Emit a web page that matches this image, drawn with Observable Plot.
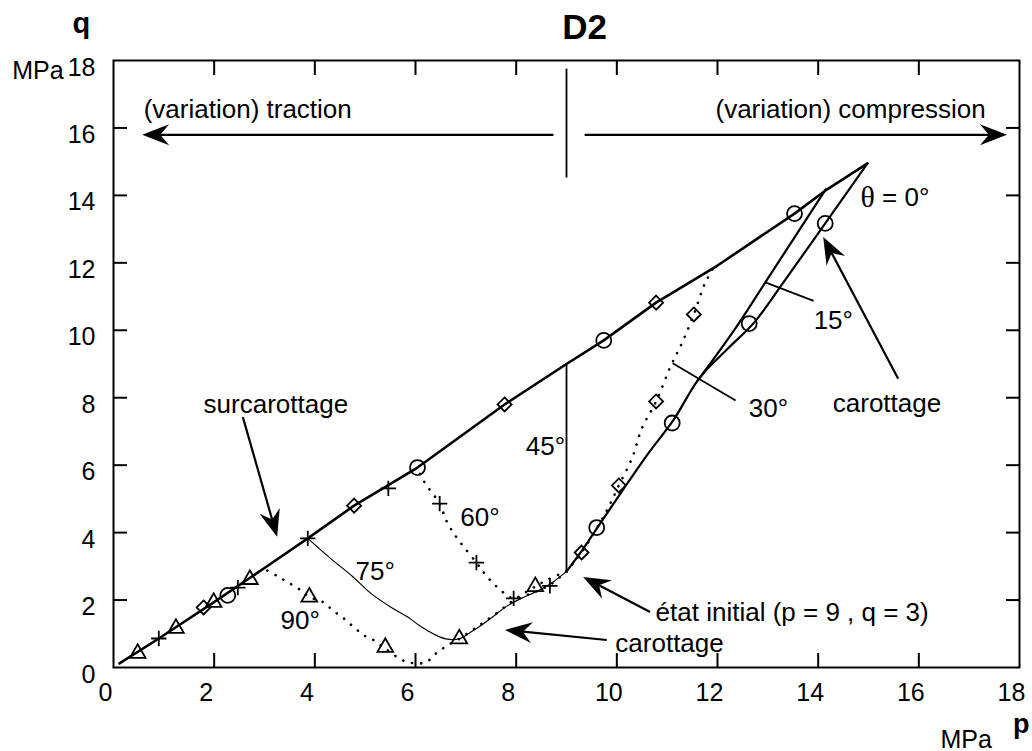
<!DOCTYPE html>
<html><head><meta charset="utf-8">
<script src="https://cdn.jsdelivr.net/npm/d3@7"></script>
<script src="https://cdn.jsdelivr.net/npm/@observablehq/plot@0.6"></script>
<style>
html,body{margin:0;padding:0;background:#fff;}
#chart{width:1032px;height:751px;}
</style></head><body><div id="chart"></div>
<script>
// ---- axis ticks ----
const pTicks = [0,2,4,6,8,10,12,14,16,18];
const qTicks = [0,2,4,6,8,10,12,14,16,18];
const innerTicks = [2,4,6,8,10,12,14,16];

// ---- stress paths [p, q] (MPa) ----
const surcarottage = [[0.12,0.12],[0.9,0.86],[1.99,1.93],[3.0,2.95],[3.86,3.83],[4.78,4.8],[6.04,5.93],[7.77,7.8],[9.0,9.0],[9.74,9.7],[10.78,10.82],[12.0,11.92],[13.53,13.46],[14.18,14.18],[14.98,14.95]];
const theta0 = [[9.0,2.85],[9.3,3.45],[9.6,4.12],[10.1,5.22],[10.65,6.4],[11.13,7.35],[11.6,8.5],[12.2,9.45],[12.74,10.25],[13.31,11.42],[14.14,13.17],[14.98,14.95]];
const theta15 = [[11.6,8.5],[12.42,10.2],[12.95,11.42],[14.15,14.18]];
const theta30 = [[9.0,2.85],[9.3,3.42],[9.6,4.12],[9.85,4.8],[10.04,5.4],[10.3,6.2],[10.5,7.1],[10.78,7.89],[11.06,8.9],[11.3,9.64],[11.53,10.47],[11.75,11.39],[11.95,11.92]];
const theta45 = [[9.0,2.85],[9.0,9.0]];
const theta60 = [[9.0,2.85],[8.67,2.45],[8.3,2.2],[7.95,2.05],[7.75,2.22],[7.55,2.49],[7.37,2.79],[7.21,3.11],[6.91,3.67],[6.75,4.0],[6.61,4.36],[6.48,4.86],[6.27,5.3],[6.12,5.64],[6.04,5.93]];
const theta75 = [[9.0,2.85],[8.7,2.5],[8.4,2.25],[8.1,2.05],[7.85,1.85],[7.6,1.58],[7.35,1.3],[7.1,1.05],[6.87,0.85],[6.6,0.85],[6.35,1.0],[6.1,1.22],[5.86,1.48],[5.52,1.78],[5.12,2.19],[4.75,2.7],[4.3,3.25],[3.86,3.83]];
const theta90 = [[9.0,2.85],[8.62,2.6],[8.38,2.4],[8.0,2.05],[7.6,1.6],[7.2,1.18],[6.87,0.85],[6.63,0.65],[6.4,0.41],[6.2,0.15],[5.8,0.18],[5.4,0.56],[5.18,0.8],[4.98,0.95],[4.78,1.19],[4.58,1.45],[4.36,1.69],[4.16,1.94],[3.89,2.09],[3.73,2.28],[3.29,2.68],[3.0,2.92]];

// ---- markers [p, q] ----
const circles = [[9.6,4.15],[11.1,7.25],[12.63,10.2],[14.14,13.17],[13.53,13.46],[9.74,9.7],[6.04,5.93],[2.27,2.14]];
const diamonds = [[9.3,3.41],[10.04,5.4],[10.78,7.89],[11.53,10.47],[10.78,10.82],[7.77,7.8],[4.78,4.8],[1.79,1.78]];
const crosses = [[8.67,2.42],[7.95,2.05],[7.21,3.11],[6.48,4.86],[5.46,5.31],[3.86,3.83],[2.47,2.37],[0.9,0.86]];
const triangles = [[8.38,2.4],[6.87,0.85],[5.4,0.6],[3.89,2.09],[2.71,2.61],[1.99,1.93],[1.24,1.16],[0.48,0.42]];

// ---- annotation texts ----
const labelTexts = ["(variation) traction","(variation) compression","surcarottage","carottage","15°","30°","45°","60°","75°","90°","état initial (p = 9 , q = 3)","carottage"];
const labelP = [0.6,11.96,1.79,14.29,13.91,12.62,8.19,6.89,4.81,3.32,10.77,9.97];
const labelQ = [16.55,16.55,7.8,7.83,10.29,7.68,6.55,4.45,2.85,1.39,1.64,0.72];
const labels = labelTexts.map((t,i)=>({t, p:labelP[i], q:labelQ[i]}));

// leader / divider lines
const leaders = [
  {p1:12.95,q1:11.42,p2:13.91,q2:10.87},
  {p1:11.11,q1:9.02,p2:12.36,q2:7.92},
  {p1:9.0,q1:14.53,p2:9.0,q2:17.76}
];
// arrows (tail -> head)
const arrows = [
  {p1:8.75,q1:15.78,p2:0.58,q2:15.78},
  {p1:9.37,q1:15.78,p2:17.76,q2:15.78},
  {p1:2.58,q1:7.41,p2:3.26,q2:3.86},
  {p1:15.6,q1:8.55,p2:14.11,q2:12.75},
  {p1:10.67,q1:1.63,p2:9.34,q2:2.67},
  {p1:9.81,q1:0.8,p2:7.79,q2:1.1}
];

const P = d => d[0], Q = d => d[1];
const dotted = {x:P, y:Q, stroke:"black", strokeWidth:2.6, strokeLinecap:"round", strokeDasharray:"0.1 9", curve:"catmull-rom"};
const mk = {x:P, y:Q, stroke:"black", strokeWidth:1.8, fill:"none"};
const font = "'Liberation Sans', Helvetica, Arial, sans-serif";

const chart = Plot.plot({
  width: 1032, height: 751,
  marginLeft: 113, marginRight: 13, marginTop: 60, marginBottom: 84,
  x: {domain:[0,18], axis:null},
  y: {domain:[0,18], axis:null},
  style: {fontFamily: font, fontSize: "25px", background:"white", color:"black", overflow:"visible"},
  marks: [
    Plot.frame({stroke:"black", strokeWidth:2}),
    Plot.axisX({anchor:"bottom", ticks: innerTicks, tickSize:14, dy:-14, strokeWidth:2, tickFormat:()=>"", label:null}),
    Plot.axisX({anchor:"top", ticks: innerTicks, tickSize:14, dy:14, strokeWidth:2, tickFormat:()=>"", label:null}),
    Plot.axisY({anchor:"left", ticks: innerTicks, tickSize:14, dx:14, strokeWidth:2, tickFormat:()=>"", label:null}),
    Plot.axisY({anchor:"right", ticks: innerTicks, tickSize:14, dx:-14, strokeWidth:2, tickFormat:()=>"", label:null}),
    Plot.axisX({anchor:"bottom", ticks: pTicks, tickSize:0, tickPadding:16, dx:-8, fontSize:25, label:null}),
    Plot.axisY({anchor:"left", ticks: qTicks, tickSize:0, tickPadding:18, dy:7, fontSize:25, label:null}),

    Plot.line(surcarottage, {x:P, y:Q, stroke:"black", strokeWidth:2.6}),
    Plot.line(theta0, {x:P, y:Q, stroke:"black", strokeWidth:2.2, curve:"monotone-x"}),
    Plot.line(theta15, {x:P, y:Q, stroke:"black", strokeWidth:2.2, curve:"monotone-x"}),
    Plot.line(theta30, dotted),
    Plot.line(theta45, {x:P, y:Q, stroke:"black", strokeWidth:1.8}),
    Plot.line(theta60, dotted),
    Plot.line(theta75, {x:P, y:Q, stroke:"black", strokeWidth:1.2, curve:"catmull-rom"}),
    Plot.line(theta90, dotted),

    Plot.dot(circles, {...mk, symbol:"circle", r:7.5}),
    Plot.dot(diamonds, {...mk, symbol:"diamond2", r:6.3}),
    Plot.dot(crosses, {...mk, symbol:"plus", r:5}),
    Plot.dot(triangles, {...mk, symbol:"triangle2", r:7.5}),

    Plot.link(leaders, {x1:"p1", y1:"q1", x2:"p2", y2:"q2", stroke:"black", strokeWidth:1.8}),

    Plot.text(labels, {x:"p", y:"q", text:"t", textAnchor:"start", fontSize:26, fill:"black"}),
    Plot.text(["θ"], {x:14.84, y:13.94, text:d=>d, textAnchor:"start", fontSize:30, fontFamily:"'Liberation Serif', 'Times New Roman', serif"}),
    Plot.text(["= 0°"], {x:15.27, y:13.94, text:d=>d, textAnchor:"start", fontSize:26}),
    Plot.text(["D2"], {x:9.36, y:18.97, text:d=>d, textAnchor:"middle", fontSize:35, fontWeight:"bold"}),
    Plot.text(["q"], {x:-0.64, y:19.1, text:d=>d, textAnchor:"middle", fontSize:29, fontWeight:"bold"}),
    Plot.text(["MPa"], {x:-0.99, y:17.7, text:d=>d, textAnchor:"end", fontSize:25}),
    Plot.text(["p"], {x:18.2, y:-1.68, text:d=>d, textAnchor:"end", fontSize:27, fontWeight:"bold"}),
    Plot.text(["MPa"], {x:16.43, y:-2.14, text:d=>d, textAnchor:"start", fontSize:25})
  ]
});

document.getElementById("chart").appendChild(chart);

// filled barbed arrowheads, positioned with the chart's own scales
const sx = chart.scale("x"), sy = chart.scale("y");
const g = d3.select(chart).append("g").attr("aria-label","arrows");
for (const a of arrows) {
  const x1 = sx.apply(a.p1), y1 = sy.apply(a.q1), x2 = sx.apply(a.p2), y2 = sy.apply(a.q2);
  const dx = x2-x1, dy = y2-y1, len = Math.hypot(dx,dy);
  const ux = dx/len, uy = dy/len, nx = -uy, ny = ux;
  const L = 27, W = 10.5, N = 18;
  g.append("line").attr("x1",x1).attr("y1",y1).attr("x2",x2-ux*N).attr("y2",y2-uy*N)
    .attr("stroke","black").attr("stroke-width",2.2);
  const pts = [[x2,y2],[x2-ux*L+nx*W, y2-uy*L+ny*W],[x2-ux*N, y2-uy*N],[x2-ux*L-nx*W, y2-uy*L-ny*W]];
  g.append("path").attr("d","M"+pts.map(p=>p.join(",")).join("L")+"Z").attr("fill","black");
}
</script></body></html>
